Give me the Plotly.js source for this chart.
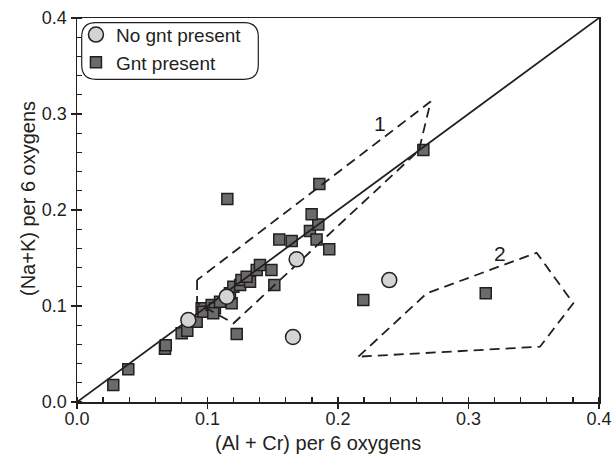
<!DOCTYPE html>
<html>
<head>
<meta charset="utf-8">
<script src="https://cdn.plot.ly/plotly-3.0.1.min.js"></script>
<style>
  html, body { margin: 0; padding: 0; background: #ffffff; }
  #chart { width: 614px; height: 454px; }
</style>
</head>
<body>
<div id="chart"></div>
<script>
// Clinopyroxene compositions: (Al + Cr) vs (Na + K), per 6 oxygens
const noGntX = [0.0853, 0.1147, 0.1683, 0.1655, 0.2393];
const noGntY = [0.0854, 0.1097, 0.1486, 0.0677, 0.1270];

const gntX = [0.0278, 0.0393, 0.0674, 0.0680, 0.0802, 0.0845, 0.0917, 0.0955, 0.0968, 0.1032,
              0.1057, 0.1044, 0.1096, 0.1185, 0.1172, 0.1198, 0.1250, 0.1260, 0.1326, 0.1300,
              0.1377, 0.1402, 0.1490, 0.1512, 0.1224, 0.1152, 0.1550, 0.1645, 0.1785, 0.1836,
              0.1849, 0.1798, 0.1857, 0.1933, 0.2194, 0.2654, 0.3132];
const gntY = [0.0177, 0.0340, 0.0555, 0.0590, 0.0715, 0.0743, 0.0837, 0.0976, 0.0940, 0.1010,
              0.0976, 0.0924, 0.1045, 0.1028, 0.1132, 0.1200, 0.1220, 0.1270, 0.1253, 0.1305,
              0.1375, 0.1427, 0.1375, 0.1219, 0.0708, 0.2115, 0.1694, 0.1677, 0.1780, 0.1694,
              0.1850, 0.1955, 0.2270, 0.1590, 0.1063, 0.2625, 0.1132];

// 1:1 reference line
const oneToOneX = [0, 0.4];
const oneToOneY = [0, 0.4];

// Outlined compositional fields
const field1X = [0.092, 0.092, 0.120, 0.262, 0.271, 0.092];
const field1Y = [0.127, 0.103, 0.082, 0.262, 0.313, 0.127];
const field2X = [0.2156, 0.268, 0.3522, 0.3803, 0.3548, 0.2156];
const field2Y = [0.0472, 0.1132, 0.1555, 0.1028, 0.0576, 0.0472];

const fieldLabels = ["1", "2"];
const fieldLabelX = [0.232, 0.324];
const fieldLabelY = [0.290, 0.155];

const xTitle = "(Al + Cr) per 6 oxygens";
const yTitle = "(Na+K) per 6 oxygens";

const ink = "#231f20";
const font = "Liberation Sans, Arial, sans-serif";

const traces = [
  {
    x: gntX, y: gntY, type: "scatter", mode: "markers", name: "Gnt present",
    marker: { symbol: "square", size: 11, color: "#6b6b6e", line: { color: ink, width: 1.5 } }
  },
  {
    x: oneToOneX, y: oneToOneY, type: "scatter", mode: "lines", showlegend: false,
    line: { color: ink, width: 1.8 }, hoverinfo: "skip"
  },
  {
    x: field1X, y: field1Y, type: "scatter", mode: "lines", showlegend: false,
    line: { color: ink, width: 1.8, dash: "10px,6px" }, hoverinfo: "skip"
  },
  {
    x: field2X, y: field2Y, type: "scatter", mode: "lines", showlegend: false,
    line: { color: ink, width: 1.8, dash: "10px,6px" }, hoverinfo: "skip"
  },
  {
    x: noGntX, y: noGntY, type: "scatter", mode: "markers", name: "No gnt present",
    marker: { symbol: "circle", size: 15, color: "#d3d4d6", line: { color: ink, width: 1.5 } }
  }
];

const axisCommon = {
  range: [0, 0.4],
  dtick: 0.1,
  tick0: 0,
  tickformat: ".1f",
  ticks: "outside",
  ticklen: 5,
  tickwidth: 1.5,
  tickcolor: ink,
  minor: { dtick: 0.02, ticks: "inside", ticklen: 5, tickwidth: 1.3, tickcolor: ink },
  showline: true,
  linecolor: ink,
  linewidth: 1.5,
  mirror: true,
  showgrid: false,
  zeroline: false,
  tickfont: { family: font, size: 18, color: ink }
};

// Rounded frame behind the legend (paper coordinates)
function roundedRect(x0, y0, x1, y1, rx, ry) {
  return "M " + (x0 + rx) + " " + y1 +
    " L " + (x1 - rx) + " " + y1 +
    " Q " + x1 + " " + y1 + " " + x1 + " " + (y1 - ry) +
    " L " + x1 + " " + (y0 + ry) +
    " Q " + x1 + " " + y0 + " " + (x1 - rx) + " " + y0 +
    " L " + (x0 + rx) + " " + y0 +
    " Q " + x0 + " " + y0 + " " + x0 + " " + (y0 + ry) +
    " L " + x0 + " " + (y1 - ry) +
    " Q " + x0 + " " + y1 + " " + (x0 + rx) + " " + y1 + " Z";
}

const layout = {
  width: 614,
  height: 454,
  margin: { l: 77, r: 15, t: 18, b: 52 },
  paper_bgcolor: "#ffffff",
  plot_bgcolor: "#ffffff",
  showlegend: true,
  legend: {
    x: -0.002, y: 1.006, xanchor: "left", yanchor: "top",
    bgcolor: "rgba(0,0,0,0)", borderwidth: 0,
    traceorder: "reversed",
    font: { family: font, size: 19, color: ink },
    itemwidth: 30
  },
  xaxis: Object.assign({}, axisCommon, { ticklabelstandoff: -5 }),
  yaxis: Object.assign({}, axisCommon, { ticklabelstandoff: 0 }),
  shapes: [
    {
      type: "path", xref: "paper", yref: "paper",
      path: roundedRect(0.009, 0.8404, 0.3473, 0.9878, 0.027, 0.037),
      line: { color: ink, width: 1.2 }, fillcolor: "rgba(255,255,255,1)", layer: "above"
    }
  ],
  annotations: fieldLabels.map((t, i) => ({
    x: fieldLabelX[i], y: fieldLabelY[i], xref: "x", yref: "y", text: t,
    showarrow: false, font: { family: font, size: 21, color: ink }
  })).concat([
    {
      x: 0.4617, y: -0.106, xref: "paper", yref: "paper", text: xTitle,
      showarrow: false, xanchor: "center", yanchor: "middle",
      font: { family: font, size: 20, color: ink }
    },
    {
      x: -0.094, y: 0.531, xref: "paper", yref: "paper", text: yTitle, textangle: -90,
      showarrow: false, xanchor: "center", yanchor: "middle",
      font: { family: font, size: 20, color: ink }
    }
  ])
};

Plotly.newPlot("chart", traces, layout, { staticPlot: true, displayModeBar: false });
</script>
</body>
</html>
